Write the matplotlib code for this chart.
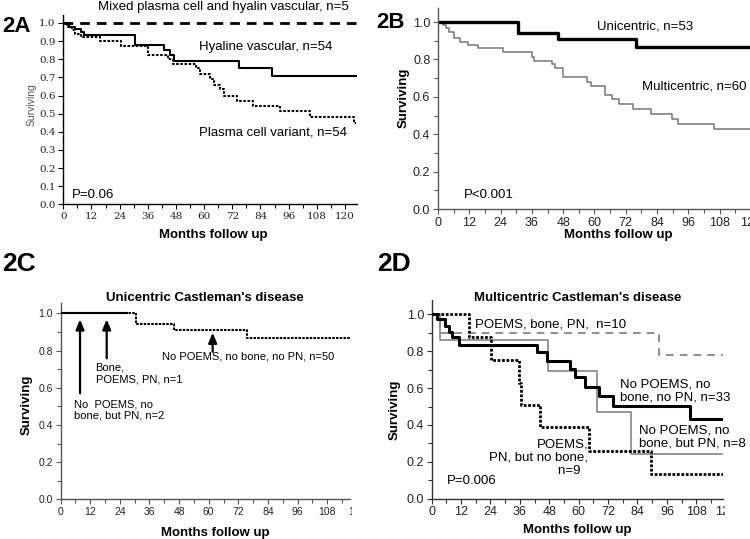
import matplotlib
matplotlib.use("Agg")
import matplotlib.pyplot as plt
from matplotlib.ticker import MultipleLocator, FormatStrFormatter
from matplotlib.transforms import Bbox

plt.rcParams['font.family'] = ['Liberation Sans', 'DejaVu Sans']

# ---------------- data ----------------
# Panel 2A
a_mixed_t = [0, 124.7]
a_mixed_s = [1.0, 1.0]
a_hyal_t = [0, 2.5, 5.0, 7.5, 9.0, 30.5, 43.0, 45.5, 47.2, 74.8, 89.0, 124.7]
a_hyal_s = [1.0, 0.98, 0.965, 0.95, 0.933, 0.877, 0.851, 0.824, 0.79, 0.75, 0.706, 0.706]
a_plasma_t = [0, 1.5, 3.6, 5.1, 7.5, 15.5, 24.5, 36.2, 44.8, 46.9, 56.5, 58.2, 62.4, 64.2,
              66.8, 68.3, 73.9, 80.9, 92.3, 105.0, 124.0, 124.7]
a_plasma_s = [1.0, 0.98, 0.96, 0.94, 0.92, 0.90, 0.875, 0.826, 0.80, 0.775, 0.75, 0.72, 0.69, 0.66,
              0.635, 0.60, 0.571, 0.542, 0.513, 0.48, 0.45, 0.45]

# Panel 2B
b_uni_t = [0, 30.7, 46.0, 75.8, 120]
b_uni_s = [1.0, 0.939, 0.907, 0.865, 0.865]
b_multi_t = [0, 1.8, 3.0, 4.4, 6.0, 8.5, 11.4, 15.5, 24.8, 35.9, 36.9, 43.6, 44.9, 47.8,
             57.1, 58.8, 64.0, 66.8, 69.3, 74.8, 81.8, 89.9, 92.0, 106.0, 120]
b_multi_s = [1.0, 0.984, 0.966, 0.948, 0.916, 0.895, 0.877, 0.859, 0.838, 0.815, 0.793, 0.774, 0.752, 0.704,
             0.681, 0.658, 0.61, 0.587, 0.56, 0.535, 0.508, 0.481, 0.455, 0.426, 0.426]

# Panel 2C (unicentric)
c_other_t = [0, 26.8]
c_other_s = [1.0, 1.0]
c_none_t = [0, 30.6, 46.1, 75.4, 117.2]
c_none_s = [1.0, 0.942, 0.912, 0.870, 0.870]
c_arrow_t = [7.9, 18.7, 61.6]
c_arrow_tail = [0.57, 0.758, 0.794]
c_arrow_head = [0.968, 0.968, 0.896]

# Panel 2D (multicentric)
d_none_t = [0, 2.0, 5.6, 7.1, 8.4, 11.0, 42.8, 46.9, 56.4, 58.4, 62.5, 68.2, 74.0, 105.3, 118.9]
d_none_s = [1.0, 0.973, 0.937, 0.906, 0.875, 0.836, 0.797, 0.749, 0.703, 0.658, 0.604, 0.557, 0.503, 0.432, 0.432]
d_pn_t = [0, 3.4, 47.3, 67.3, 81.3, 118.9]
d_pn_s = [1.0, 0.862, 0.693, 0.468, 0.242, 0.242]
d_bone_t = [0, 3.5, 92.7, 118.9]
d_bone_s = [1.0, 0.90, 0.779, 0.779]
d_nobone_t = [0, 15.2, 24.2, 35.6, 36.4, 44.2, 64.1, 89.4, 118.9]
d_nobone_s = [1.0, 0.879, 0.752, 0.626, 0.508, 0.387, 0.26, 0.134, 0.134]

W, H = 750, 539
fig = plt.figure(figsize=(7.5, 5.39), dpi=100)


def px_axes(left, right, top, bottom):
    return fig.add_axes([left / W, 1 - bottom / H, (right - left) / W, (bottom - top) / H])


def style(ax, xmax, ymax, ystep, yminor, spine_col, tick_size, tick_font=None):
    for s in ['top', 'right']:
        ax.spines[s].set_visible(False)
    for s in ['left', 'bottom']:
        ax.spines[s].set_color(spine_col)
        ax.spines[s].set_linewidth(1.0)
    ax.set_xlim(0, xmax)
    ax.set_ylim(0, ymax)
    ax.xaxis.set_major_locator(MultipleLocator(12))
    ax.xaxis.set_minor_locator(MultipleLocator(6))
    ax.yaxis.set_major_locator(MultipleLocator(ystep))
    if yminor:
        ax.yaxis.set_minor_locator(MultipleLocator(yminor))
    ax.yaxis.set_major_formatter(FormatStrFormatter('%.1f'))
    ax.tick_params(which='major', direction='out', length=3.5, width=0.8, colors=spine_col,
                   labelcolor='#222222', labelsize=tick_size, pad=2)
    ax.tick_params(which='minor', direction='out', length=3, width=0.8, colors=spine_col)
    if tick_font:
        for lab in ax.get_xticklabels() + ax.get_yticklabels():
            lab.set_fontfamily(tick_font)


def clipped_label(ax, value, size, clip_right_px):
    t = ax.annotate(str(value), xy=(value, 0), xycoords=ax.get_xaxis_transform(),
                    xytext=(0, -5.5), textcoords='offset points', ha='center', va='top',
                    fontsize=size, color='#222222', annotation_clip=False)
    t.set_clip_box(Bbox.from_extents(0, 0, clip_right_px, H))
    t.set_clip_on(True)


# ---------------- 2A ----------------
axA = px_axes(63.3, 356.7, 15, 204.3)
style(axA, 125, 1.044, 0.1, None, 'black', 7.5, 'DejaVu Serif')
axA.step(a_mixed_t, a_mixed_s, where='post', color='black', lw=2, ls=(0, (3.5, 2.5)), clip_on=False)
axA.step(a_hyal_t, a_hyal_s, where='post', color='black', lw=1.5)
axA.step(a_plasma_t, a_plasma_s, where='post', color='black', lw=1.5, ls=(0, (1.2, 0.8)))
axA.text(14.8, 1.09, 'Mixed plasma cell and hyalin vascular, n=5', fontsize=9.5, va='center', clip_on=False)
axA.text(57.8, 0.869, 'Hyaline vascular, n=54', fontsize=9.5, va='center')
axA.text(57.8, 0.394, 'Plasma cell variant, n=54', fontsize=9.5, va='center')
axA.text(3.6, 0.054, 'P=0.06', fontsize=9.5, va='center')
axA.set_ylabel('Surviving', fontsize=7.5, color='#555555')
axA.yaxis.label.set_va('center')
axA.yaxis.set_label_coords(-0.107, 0.525)
axA.set_xlabel('Months follow up', fontsize=9.5, fontweight='bold')
axA.xaxis.label.set_va('center')
axA.xaxis.set_label_coords(0.511, -0.162)

# ---------------- 2B ----------------
axB = px_axes(438, 750.9, 8, 209)
style(axB, 120, 1.075, 0.2, 0.1, '#555555', 9)
axB.step(b_multi_t, b_multi_s, where='post', color='#808080', lw=1.2)
axB.step(b_uni_t, b_uni_s, where='post', color='black', lw=2.4)
axB.text(60.9, 0.975, 'Unicentric, n=53', fontsize=9.5, va='center')
axB.text(78.1, 0.654, 'Multicentric, n=60', fontsize=9.5, va='center')
axB.text(10.1, 0.075, 'P<0.001', fontsize=9.5, va='center')
axB.set_ylabel('Surviving', fontsize=9.5, fontweight='bold')
axB.yaxis.label.set_va('center')
axB.yaxis.set_label_coords(-0.111, 0.551)
axB.set_xlabel('Months follow up', fontsize=9.5, fontweight='bold')
axB.xaxis.label.set_va('center')
axB.xaxis.set_label_coords(0.576, -0.129)

# ---------------- 2C ----------------
axC = px_axes(60.5, 350, 303.3, 499.3)
style(axC, 117.2, 1.054, 0.2, 0.1, '#555555', 7.5)
axC.step(c_none_t, c_none_s, where='post', color='black', lw=1.5, ls=(0, (1.2, 0.6)), zorder=2)
axC.step(c_other_t, c_other_s, where='post', color='black', lw=1.5, zorder=3)
for t, s0, s1 in zip(c_arrow_t, c_arrow_tail, c_arrow_head):
    axC.annotate('', xy=(t, s1), xytext=(t, s0),
                 arrowprops=dict(arrowstyle='-|>,head_length=0.6,head_width=0.25', color='black', lw=1.6,
                                 shrinkA=0, shrinkB=0))
axC.text(41, 0.77, 'No POEMS, no bone, no PN, n=50', fontsize=8, va='center')
axC.text(14.2, 0.677, 'Bone,\nPOEMS, PN, n=1', fontsize=8, va='center', linespacing=1.2)
axC.text(5.5, 0.48, 'No  POEMS, no\nbone, but PN, n=2', fontsize=8, va='center', linespacing=1.2)
axC.text(0.5, 1.0255, "Unicentric Castleman's disease", transform=axC.transAxes, fontsize=9.5,
         fontweight='bold', ha='center', va='center')
axC.set_ylabel('Surviving', fontsize=9.5, fontweight='bold')
axC.yaxis.label.set_va('center')
axC.yaxis.set_label_coords(-0.117, 0.481)
axC.set_xlabel('Months follow up', fontsize=9.5, fontweight='bold')
axC.xaxis.label.set_va('center')
axC.xaxis.set_label_coords(0.534, -0.172)
clipped_label(axC, 120, 7.5, 351.5)

# ---------------- 2D ----------------
axD = px_axes(431.7, 723, 300, 498.7)
style(axD, 118.9, 1.078, 0.2, 0.1, '#333333', 9)
axD.step(d_bone_t, d_bone_s, where='post', color='#707070', lw=1.1, ls=(0, (5, 4)), zorder=2)
axD.step(d_pn_t, d_pn_s, where='post', color='#858585', lw=1.2, zorder=3)
axD.step(d_nobone_t, d_nobone_s, where='post', color='black', lw=2.0, ls=(0, (1.0, 0.6)), zorder=4)
axD.step(d_none_t, d_none_s, where='post', color='black', lw=2.2, zorder=5)
axD.text(17.6, 0.947, 'POEMS, bone, PN,  n=10', fontsize=9.5, va='center')
axD.text(76.8, 0.585, 'No POEMS, no\nbone, no PN, n=33', fontsize=9.5, va='center', linespacing=1.15)
axD.text(84.6, 0.335, 'No POEMS, no\nbone, but PN, n=8', fontsize=9.5, va='center', linespacing=1.15)
axD.text(63.8, 0.222, 'POEMS,\nPN, but no bone,\nn=9  ', fontsize=9.5, va='center', ha='right',
         multialignment='right', linespacing=1.15)
axD.text(6.1, 0.098, 'P=0.006', fontsize=9.5, va='center')
axD.text(0.5, 1.0085, "Multicentric Castleman's disease", transform=axD.transAxes, fontsize=9.5,
         fontweight='bold', ha='center', va='center')
axD.set_ylabel('Surviving', fontsize=9.5, fontweight='bold')
axD.yaxis.label.set_va('center')
axD.yaxis.set_label_coords(-0.126, 0.446)
axD.set_xlabel('Months follow up', fontsize=9.5, fontweight='bold')
axD.xaxis.label.set_va('center')
axD.xaxis.set_label_coords(0.498, -0.158)
clipped_label(axD, 120, 9, 725)

# panel letters
fig.text(2 / W, 1 - 26 / H, '2A', fontsize=16, fontweight='bold', va='center')
fig.text(376 / W, 1 - 23 / H, '2B', fontsize=16, fontweight='bold', va='center')
fig.text(2 / W, 1 - 264 / H, '2C', fontsize=19, fontweight='bold', va='center')
fig.text(377 / W, 1 - 264 / H, '2D', fontsize=19, fontweight='bold', va='center')

fig.savefig('out.png', dpi=100)
